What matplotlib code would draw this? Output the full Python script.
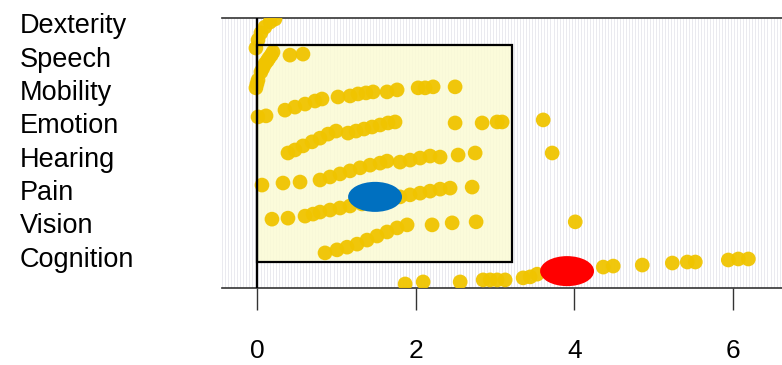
import numpy as np
import matplotlib
matplotlib.use("Agg")
import matplotlib.pyplot as plt
from matplotlib.patches import Ellipse, Rectangle

categories = ["Dexterity", "Speech", "Mobility", "Emotion", "Hearing", "Pain", "Vision", "Cognition"]
xticks = [0, 2, 4, 6]

row1_x = [-0.013, 0.013, 0.05, 0.10, 0.164, 0.227]
row1_y = [7.11, 7.35, 7.56, 7.73, 7.88, 7.97]

row2_x = [-0.013, 0.0, 0.013, 0.05, 0.075, 0.10, 0.13, 0.151, 0.18, 0.202, 0.416, 0.58]
row2_y = [5.93, 6.05, 6.16, 6.40, 6.52, 6.64, 6.73, 6.81, 6.90, 6.99, 6.90, 6.93]

row3_x = [0.013, 0.114, 0.353, 0.479, 0.606, 0.732, 0.82, 1.022, 1.174, 1.274, 1.375, 1.464,
          1.64, 1.767, 2.032, 2.12, 2.221, 2.498]
row3_y = [5.07, 5.10, 5.27, 5.36, 5.45, 5.54, 5.60, 5.66, 5.69, 5.75, 5.78, 5.81,
          5.81, 5.87, 5.93, 5.93, 5.96, 5.96]

row4_x = [0.391, 0.479, 0.58, 0.694, 0.795, 0.896, 0.997, 1.148, 1.249, 1.350, 1.451, 1.552,
          1.653, 1.741, 2.498, 2.839, 3.028, 3.091, 3.609]
row4_y = [4.00, 4.09, 4.21, 4.33, 4.44, 4.56, 4.65, 4.59, 4.65, 4.71, 4.77, 4.83,
          4.89, 4.92, 4.89, 4.89, 4.92, 4.92, 4.98]

row5_x = [0.063, 0.328, 0.543, 0.795, 0.921, 1.047, 1.173, 1.300, 1.426, 1.552, 1.640, 1.804,
          1.930, 2.057, 2.183, 2.309, 2.536, 2.751, 3.722]
row5_y = [3.05, 3.11, 3.14, 3.20, 3.29, 3.38, 3.47, 3.56, 3.64, 3.70, 3.76, 3.73,
          3.79, 3.85, 3.91, 3.88, 3.94, 4.00, 4.00]

row6_x = [0.189, 0.391, 0.606, 0.707, 0.795, 0.921, 1.047, 1.173, 1.325, 1.476, 1.628, 1.804,
          1.930, 2.057, 2.183, 2.309, 2.435, 2.713]
row6_y = [2.04, 2.07, 2.13, 2.19, 2.25, 2.31, 2.37, 2.43, 2.49, 2.55, 2.61, 2.70,
          2.76, 2.81, 2.87, 2.93, 2.96, 2.99]

row7_x = [0.858, 1.009, 1.136, 1.262, 1.388, 1.514, 1.640, 1.767, 1.893, 2.208, 2.461, 2.763, 4.013]
row7_y = [1.04, 1.13, 1.21, 1.30, 1.42, 1.54, 1.66, 1.78, 1.87, 1.87, 1.93, 1.96, 1.96]

row8_x = [1.868, 2.095, 2.562, 2.852, 2.940, 3.028, 3.129, 3.356, 3.445, 3.533, 3.697, 3.886,
          4.076, 4.366, 4.492, 4.858, 5.237, 5.426, 5.527, 5.943, 6.069, 6.196]
row8_y = [0.12, 0.18, 0.18, 0.24, 0.24, 0.24, 0.24, 0.30, 0.33, 0.41, 0.47, 0.53,
          0.56, 0.62, 0.65, 0.68, 0.74, 0.77, 0.77, 0.83, 0.86, 0.86]

box_x = [0.0, 3.218]
box_y = [0.77, 7.2]

blue_center = (1.489, 2.70)
red_center = (3.91, 0.50)
marker_w, marker_h = 0.68, 0.89

plt.rcParams['font.family'] = ['Liberation Sans', 'DejaVu Sans']

fig = plt.figure(figsize=(7.82, 3.65), dpi=100)
ax = fig.add_axes([222 / 782, 77 / 365, 1 - 222 / 782, 270 / 365])
ax.set_xlim(-0.441, 6.62)
ax.set_ylim(0, 8)

# faint vertical stripe texture
stripes = np.arange(-0.441, 6.62, 0.038)
ax.vlines(stripes, 0, 8, colors='#e6e6ec', linewidth=0.6, zorder=0)

ax.add_patch(Rectangle((box_x[0], box_y[0]), box_x[1] - box_x[0], box_y[1] - box_y[0],
                       facecolor='#fbfbd4', edgecolor='none', alpha=0.85, zorder=1))
ax.add_patch(Rectangle((box_x[0], box_y[0]), box_x[1] - box_x[0], box_y[1] - box_y[0],
                       facecolor='none', edgecolor='black', linewidth=1.6, zorder=4))
ax.axvline(0, color='black', linewidth=1.6, zorder=4)

dot_color = '#f0c400'
for xs, ys in [(row1_x, row1_y), (row2_x, row2_y), (row3_x, row3_y), (row4_x, row4_y),
               (row5_x, row5_y), (row6_x, row6_y), (row7_x, row7_y), (row8_x, row8_y)]:
    ax.scatter(xs, ys, s=112, color=dot_color, edgecolors='none', alpha=0.95, zorder=3)

ax.add_patch(Ellipse(blue_center, marker_w, marker_h, facecolor='#0070c0', edgecolor='none', zorder=5))
ax.add_patch(Ellipse(red_center, marker_w, marker_h, facecolor='#ff0000', edgecolor='none', zorder=5))

for s in ['left', 'right']:
    ax.spines[s].set_visible(False)
for s in ['top', 'bottom']:
    ax.spines[s].set_color('#333333')
    ax.spines[s].set_linewidth(1.2)

ax.set_yticks([])
ax.set_xticks(xticks)
ax.set_xticklabels([str(t) for t in xticks], fontsize=19)
ax.tick_params(axis='x', length=16, width=1, color='#333333', pad=21, labelcolor='black')

baselines = [33, 67, 100, 133, 167, 200, 233, 267]
for lab, b in zip(categories, baselines):
    fig.text(20 / 782, 1 - b / 365, lab, fontsize=19.5, ha='left', va='baseline', color='black')

fig.savefig('out.png', dpi=100, facecolor='white')
